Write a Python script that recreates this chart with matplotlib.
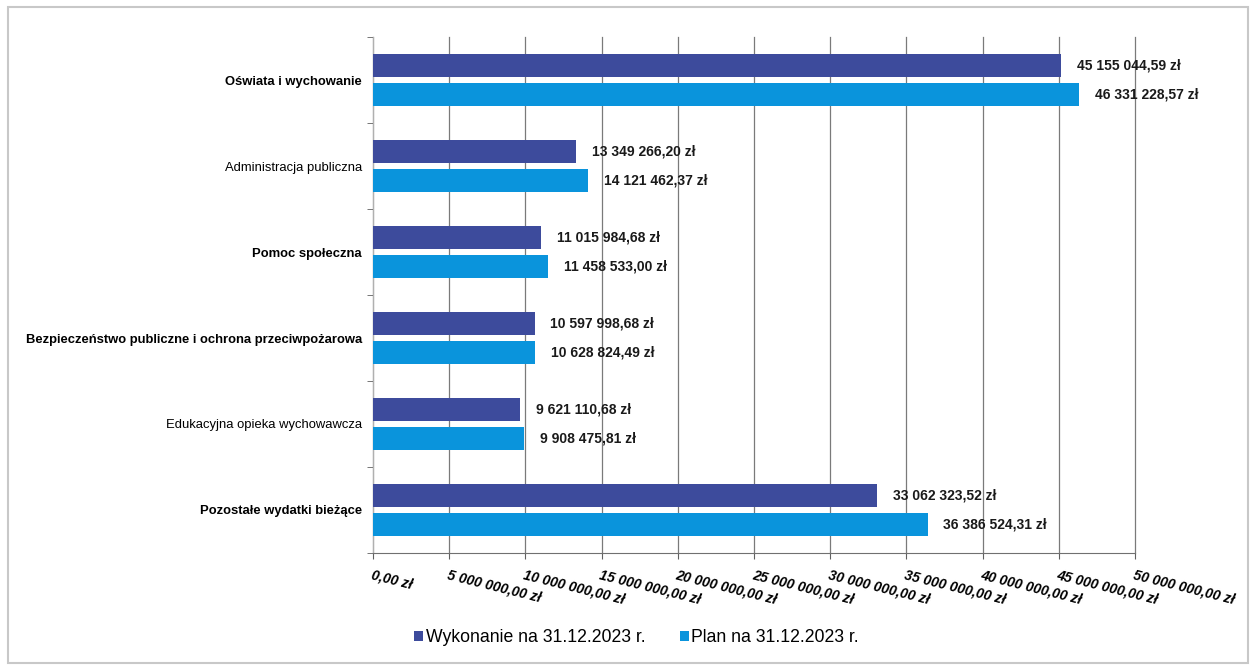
import matplotlib
matplotlib.use("Agg")
import matplotlib.pyplot as plt
from matplotlib.patches import Rectangle
import numpy as np

categories = [
    "Oświata i wychowanie",
    "Administracja publiczna",
    "Pomoc społeczna",
    "Bezpieczeństwo publiczne i ochrona przeciwpożarowa",
    "Edukacyjna opieka wychowawcza",
    "Pozostałe wydatki bieżące",
]
bold_labels = [True, False, True, True, False, True]
wykonanie = [45155044.59, 13349266.20, 11015984.68, 10597998.68, 9621110.68, 33062323.52]
plan = [46331228.57, 14121462.37, 11458533.00, 10628824.49, 9908475.81, 36386524.31]
series_names = ["Wykonanie na 31.12.2023 r.", "Plan na 31.12.2023 r."]
x_ticks = [0, 5e6, 10e6, 15e6, 20e6, 25e6, 30e6, 35e6, 40e6, 45e6, 50e6]

c_dark = "#3d4b9c"
c_light = "#0a94dc"

plt.rcParams["font.family"] = ["Liberation Sans", "DejaVu Sans"]


def pln(v):
    s = f"{v:,.2f}"
    whole, frac = s.split(".")
    return whole.replace(",", " ") + "," + frac + " zł"


fig = plt.figure(figsize=(12.53, 6.66), dpi=100)
fig.patches.append(Rectangle((0.006, 0.004), 0.99, 0.986, transform=fig.transFigure,
                             fill=False, edgecolor="#c8c8c8", linewidth=1.5))
ax = fig.add_axes([0.2977, 0.1697, 0.6081, 0.7747])

y = np.arange(len(categories))
h = 0.26
off = 0.17
ax.barh(y - off, wykonanie, height=h, color=c_dark, label=series_names[0], zorder=3)
ax.barh(y + off, plan, height=h, color=c_light, label=series_names[1], zorder=3)

for yi, v in zip(y - off, wykonanie):
    ax.annotate(pln(v), (v, yi), xytext=(11.5, 0), textcoords="offset points",
                va="center", ha="left", fontsize=10, fontweight="bold", color="#1a1a1a")
for yi, v in zip(y + off, plan):
    ax.annotate(pln(v), (v, yi), xytext=(11.5, 0), textcoords="offset points",
                va="center", ha="left", fontsize=10, fontweight="bold", color="#1a1a1a")

ax.set_xlim(0, 50e6)
ax.set_ylim(len(categories) - 0.5, -0.5)

ax.set_xticks(x_ticks)
ax.set_xticklabels([pln(v) for v in x_ticks], rotation=-14, ha="left",
                   rotation_mode="anchor", fontsize=10, fontweight="bold",
                   fontstyle="italic")
ax.tick_params(axis="x", length=4, width=0.8, color="#606060", pad=7)

ax.set_yticks(y)
ax.set_yticklabels(categories, fontsize=9.4)
for lab, b in zip(ax.get_yticklabels(), bold_labels):
    lab.set_fontweight("bold" if b else "normal")
ax.tick_params(axis="y", length=0, pad=8)
ax.set_yticks(np.arange(-0.5, len(categories), 1.0), minor=True)
ax.tick_params(axis="y", which="minor", length=4, color="#606060")

ax.grid(axis="x", color="#7a7a7a", linewidth=0.9, zorder=0)
for gl in ax.get_xgridlines():
    gl.set_clip_on(False)
for s in ["top", "right"]:
    ax.spines[s].set_visible(False)
ax.spines["left"].set_color("#b0b0b0")
ax.spines["bottom"].set_color("#707070")

leg = fig.legend(loc="lower center", bbox_to_anchor=(0.508, 0.006), ncol=2, frameon=False,
                 fontsize=12.7, handlelength=0.5, handleheight=0.5,
                 handletextpad=0.15, columnspacing=1.95)

fig.savefig("out.png", dpi=100)
